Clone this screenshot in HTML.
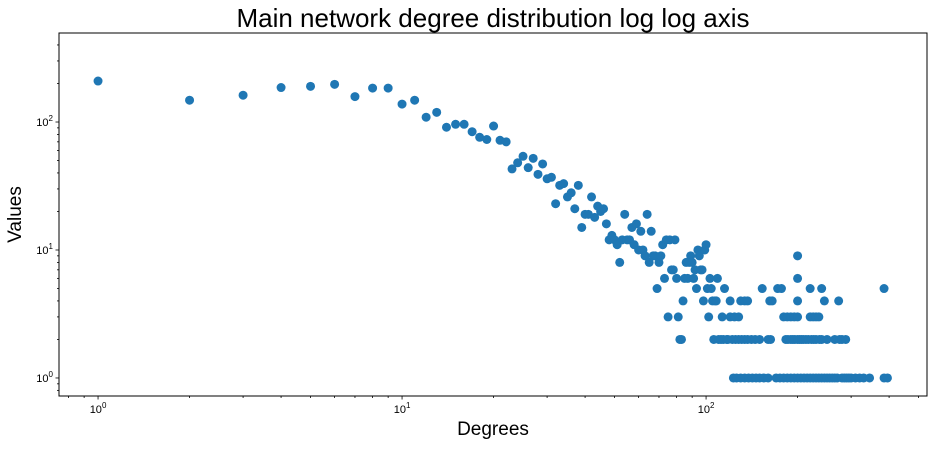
<!DOCTYPE html>
<html><head><meta charset="utf-8"><style>
body{margin:0;background:#fff;}
svg text{font-family:"Liberation Sans",sans-serif;fill:#000;}
</style></head><body>
<svg id="chart" width="938" height="447"></svg>
<script>
// Main sequence: degrees and their values
const seqDegrees = [1,2,3,4,5,6,7,8,9,10,11,12,13,14,15,16,17,18,19,20,21,22,23,24,25,26,27,28,29,30,31,32,33,34,35,36,37,38,39,40,41,42,43,44,45,46,47,48,49,50,51,52,53,54,55,56,57,58,59,60,61,62,63,64,65,66,67,68,69,70,71,72,73,74,75,76,77,78,79,80,81,82,83,84,85,86,87,88,89,90,91,92,93,94,95,96,97,98,99,100,101,102,103,104,105,106,107,108,109,110];
const seqValues = [209,148,162,186,190,197,158,184,184,138,148,109,119,91,96,96,84,76,73,93,72,70,43,48,54,44,52,39,47,36,37,23,32,33,26,28,21,32,15,19,19,26,18,22,20,21,16,12,13,12,11,8,12,19,12,12,15,11,16,10,14,10,9,19,8,14,9,9,5,8,9,11,6,12,3,12,7,7,12,6,3,2,2,4,6,8,6,8,9,8,6,7,5,10,9,7,7,4,10,11,5,3,6,5,4,2,4,4,6,2];
// Tail points
const tailDegrees = [123,126,130,134,138,142,146,150,155,160,170,175,180,185,190,195,200,205,210,215,220,225,230,235,240,245,250,255,260,265,270,280,285,290,295,300,310,320,330,345,385,395,
 112,114,117,118,122,125,128,131,134,137,141,145,150,160,163,183,186,190,193,196,200,203,206,209,213,217,222,226,230,236,240,250,265,275,280,288,
 113,120,124,128,180,185,190,195,200,220,225,230,235,
 120,130,134,137,162,165,200,245,273,
 115,153,172,177,220,240,385,
 200,200];
const tailValues = [1,1,1,1,1,1,1,1,1,1,1,1,1,1,1,1,1,1,1,1,1,1,1,1,1,1,1,1,1,1,1,1,1,1,1,1,1,1,1,1,1,1,
 2,2,2,2,2,2,2,2,2,2,2,2,2,2,2,2,2,2,2,2,2,2,2,2,2,2,2,2,2,2,2,2,2,2,2,2,
 3,3,3,3,3,3,3,3,3,3,3,3,3,
 4,4,4,4,4,4,4,4,4,
 5,5,5,5,5,5,5,
 6,9];
const xTickExps = [0,1,2];
const yTickExps = [0,1,2];

const NS="http://www.w3.org/2000/svg";
const svg=document.getElementById('chart');
const L=59,R=927,T=33,B=396;
const xMin=Math.log10(0.744),xMax=Math.log10(533);
const yMin=Math.log10(0.723),yMax=Math.log10(496);
const xs=d=>L+(Math.log10(d)-xMin)/(xMax-xMin)*(R-L);
const ys=v=>B-(Math.log10(v)-yMin)/(yMax-yMin)*(B-T);
function mk(tag,attrs){const e=document.createElementNS(NS,tag);for(const k in attrs)e.setAttribute(k,attrs[k]);svg.appendChild(e);return e;}

const g=document.createElementNS(NS,'g');svg.appendChild(g);


function pt(d,v){const c=document.createElementNS(NS,'circle');c.setAttribute('cx',xs(d));c.setAttribute('cy',ys(v));c.setAttribute('r',4.5);c.setAttribute('fill','#1f77b4');


g.appendChild(c);}
seqDegrees.forEach((d,i)=>pt(d,seqValues[i]));
tailDegrees.forEach((d,i)=>pt(d,tailValues[i]));

const fr=mk('rect',{x:L,y:T,width:R-L,height:B-T,fill:'none',stroke:'#000','stroke-width':1});



for(let e=-1;e<=2;e++){for(let m=1;m<10;m++){const d=m*Math.pow(10,e);if(d<0.744||d>533)continue;const x=xs(d);
 const len=m===1?3.5:2;mk('line',{x1:x,x2:x,y1:B,y2:B+len,stroke:'#000','stroke-width':0.8});}}
xTickExps.forEach(e=>{const t=mk('text',{x:xs(Math.pow(10,e)),y:B+17,'font-size':11,'text-anchor':'middle'});
 
 
 t.innerHTML='10<tspan dy="-5" font-size="8">'+e+'</tspan>';});
for(let e=-1;e<=2;e++){for(let m=1;m<10;m++){const v=m*Math.pow(10,e);if(v<0.723||v>496)continue;const y=ys(v);
 const len=m===1?3.5:2;mk('line',{x1:L-len,x2:L,y1:y,y2:y,stroke:'#000','stroke-width':0.8});}}
yTickExps.forEach(e=>{const t=mk('text',{x:L-6,y:ys(Math.pow(10,e))+4,'font-size':11,'text-anchor':'end'});
 
 
 t.innerHTML='10<tspan dy="-5" font-size="8">'+e+'</tspan>';});

const title=mk('text',{x:(L+R)/2,y:27,'font-size':26,'text-anchor':'middle'});title.textContent='Main network degree distribution log log axis';


const xl=mk('text',{x:(L+R)/2,y:435,'font-size':19,'text-anchor':'middle'});xl.textContent='Degrees';


const yl=mk('text',{x:21,y:(T+B)/2,'font-size':19,'text-anchor':'middle',transform:'rotate(-90 21 '+((T+B)/2)+')'});yl.textContent='Values';


</script>
</body></html>
